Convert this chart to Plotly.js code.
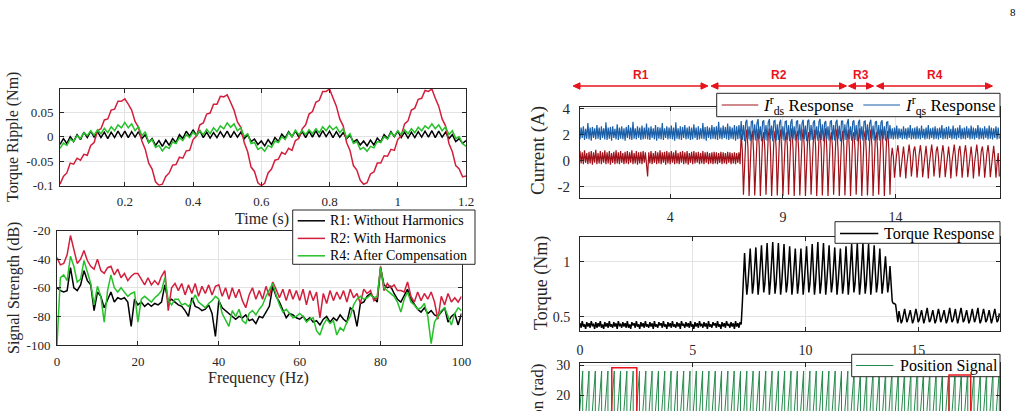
<!DOCTYPE html>
<html>
<head>
<meta charset="utf-8">
<script src="https://cdn.plot.ly/plotly-3.0.1.min.js"></script>
<style>
  html, body { margin: 0; padding: 0; background: #ffffff; }
  #chart { width: 1023px; height: 411px; }
</style>
</head>
<body>
<div id="chart"></div>
<script>
// ---------------- Torque ripple, time domain (0.01 s .. 1.20 s, 0.01 s step) ----------------
const rippleT0 = 0.01, rippleDt = 0.01;
const rippleR1 = [
  -0.016, -0.004, -0.014, 0.0, -0.01, 0.004, -0.006, 0.009, -0.002, 0.011, -0.001, 0.010, -0.002, 0.009, -0.004, 0.009, -0.002, 0.011, -0.001, 0.011, -0.002, 0.010, -0.001, 0.010, -0.004, 0.004, -0.012, -0.004, -0.018, -0.008,
  -0.020, -0.007, -0.018, -0.004, -0.012, 0.004, -0.004, 0.011, 0.001, 0.014, 0.002, 0.012, -0.002, 0.009, -0.003, 0.008, -0.002, 0.010, -0.001, 0.011, -0.002, 0.010, -0.001, 0.009, -0.004, 0.004, -0.010, -0.005, -0.016, -0.009,
  -0.019, -0.006, -0.016, -0.002, -0.010, 0.005, -0.003, 0.010, 0.000, 0.011, -0.001, 0.010, -0.002, 0.011, -0.001, 0.012, -0.001, 0.012, 0.000, 0.011, -0.002, 0.010, -0.001, 0.008, -0.004, 0.003, -0.011, -0.006, -0.017, -0.009,
  -0.019, -0.007, -0.017, -0.003, -0.011, 0.004, -0.004, 0.010, 0.000, 0.011, -0.002, 0.009, -0.003, 0.009, -0.002, 0.010, -0.001, 0.011, -0.001, 0.012, -0.002, 0.011, -0.001, 0.009, -0.004, 0.004, -0.010, -0.004, -0.014, -0.008
];
const rippleR2 = [
  -0.097, -0.081, -0.074, -0.054, -0.056, -0.044, -0.048, -0.036, -0.038, -0.018, -0.012, 0.012, 0.016, 0.034, 0.036, 0.054, 0.056, 0.072, 0.072, 0.077, 0.066, 0.054, 0.031, 0.019, -0.009, -0.026, -0.054, -0.066, -0.092, -0.099,
  -0.097, -0.081, -0.074, -0.058, -0.057, -0.042, -0.044, -0.029, -0.028, -0.006, 0.001, 0.024, 0.028, 0.046, 0.048, 0.066, 0.066, 0.082, 0.081, 0.085, 0.070, 0.054, 0.030, 0.019, -0.012, -0.031, -0.062, -0.071, -0.094, -0.100,
  -0.095, -0.074, -0.066, -0.048, -0.046, -0.032, -0.036, -0.024, -0.028, -0.008, -0.004, 0.016, 0.024, 0.046, 0.051, 0.070, 0.074, 0.092, 0.092, 0.097, 0.079, 0.062, 0.036, 0.022, -0.012, -0.028, -0.059, -0.068, -0.089, -0.097,
  -0.094, -0.076, -0.072, -0.054, -0.054, -0.039, -0.040, -0.026, -0.028, -0.006, 0.002, 0.026, 0.032, 0.054, 0.058, 0.076, 0.078, 0.094, 0.092, 0.097, 0.078, 0.062, 0.036, 0.022, -0.014, -0.031, -0.059, -0.066, -0.082, -0.080
];
const rippleR4 = [
  -0.024, -0.013, -0.018, -0.005, -0.010, 0.002, -0.004, 0.008, 0.002, 0.012, 0.003, 0.014, 0.006, 0.017, 0.008, 0.020, 0.012, 0.024, 0.018, 0.029, 0.018, 0.026, 0.012, 0.020, 0.002, 0.010, -0.012, -0.006, -0.022, -0.018,
  -0.029, -0.020, -0.024, -0.011, -0.014, -0.002, -0.008, 0.004, -0.002, 0.009, 0.002, 0.012, 0.004, 0.015, 0.006, 0.018, 0.010, 0.022, 0.016, 0.028, 0.019, 0.026, 0.012, 0.018, 0.000, 0.006, -0.014, -0.012, -0.026, -0.022,
  -0.030, -0.018, -0.022, -0.009, -0.012, 0.000, -0.006, 0.008, 0.000, 0.013, 0.004, 0.012, 0.004, 0.014, 0.006, 0.016, 0.008, 0.020, 0.012, 0.022, 0.014, 0.020, 0.008, 0.016, -0.002, 0.006, -0.014, -0.010, -0.026, -0.022,
  -0.030, -0.020, -0.023, -0.010, -0.012, 0.000, -0.005, 0.008, 0.001, 0.012, 0.004, 0.014, 0.006, 0.016, 0.008, 0.019, 0.012, 0.022, 0.016, 0.026, 0.016, 0.024, 0.012, 0.020, 0.004, 0.012, -0.004, 0.000, -0.014, -0.020
];
const rippleXTicks = [0.2, 0.4, 0.6, 0.8, 1.0, 1.2];
const rippleXLabels = ['0.2', '0.4', '0.6', '0.8', '1', '1.2'];
const rippleYTicks = [-0.1, -0.05, 0, 0.05];
const rippleYLabels = ['-0.1', '-0.05', '0', '0.05'];

// ---------------- Spectrum (0 .. 100 Hz, 121 bins) ----------------
const specBins = 121, specMaxHz = 100;
const specR1 = [
  -60, -62, -63, -62, -46, -60, -62, -58, -48, -55, -58, -76,
  -63, -66, -74, -68, -63, -70, -67, -68, -67, -70, -87, -68,
  -72, -70, -73, -71, -73, -71, -72, -70, -58, -70, -68, -70,
  -72, -73, -76, -80, -67, -73, -74, -76, -75, -72, -78, -94,
  -69, -74, -76, -78, -80, -82, -80, -81, -79, -83, -82, -85,
  -80, -81, -77, -73, -59, -66, -70, -76, -81, -78, -79, -81,
  -82, -80, -83, -81, -84, -83, -86, -82, -80, -84, -81, -83,
  -79, -82, -84, -74, -76, -87, -71, -70, -66, -64, -67, -70,
  -46, -58, -60, -59, -64, -68, -70, -66, -61, -68, -72, -75,
  -77, -74, -78, -76, -79, -80, -77, -74, -84, -80, -78, -86,
  -78
];
const specR2 = [
  -39, -44, -43, -37, -23.5, -33, -43, -40, -34, -41, -45, -47,
  -40, -48, -50, -46, -45, -51, -47, -53, -50, -55, -52, -50,
  -50, -54, -58, -53, -58, -55, -58, -52, -48, -76, -60, -57,
  -62, -57, -65, -58, -64, -57, -66, -59, -64, -58, -65, -59,
  -58, -66, -60, -68, -60, -67, -61, -69, -74, -65, -60, -68,
  -62, -68, -59, -66, -56, -61, -67, -61, -69, -61, -68, -62,
  -69, -61, -72, -62, -69, -63, -81, -64, -71, -62, -69, -63,
  -68, -62, -70, -61, -67, -64, -71, -61, -64, -62, -69, -67,
  -45, -62, -57, -60, -58, -62, -62, -63, -56, -66, -70, -63,
  -69, -64, -68, -63, -70, -82, -66, -72, -64, -70, -67, -70,
  -66
];
const specR4 = [
  -100, -53, -51, -55, -38, -45, -56, -54, -41, -50, -57, -72,
  -59, -66, -84, -62, -51, -60, -63, -60, -63, -66, -64, -63,
  -84, -68, -66, -68, -70, -67, -65, -62, -53, -69, -72, -68,
  -68, -72, -71, -73, -70, -65, -70, -72, -74, -71, -69, -66,
  -68, -78, -82, -87, -76, -80, -75, -83, -85, -78, -76, -79,
  -75, -72, -66, -62, -57, -65, -72, -77, -75, -78, -81, -80,
  -78, -80, -84, -82, -81, -90, -93, -86, -82, -85, -83, -93,
  -88, -90, -84, -80, -72, -68, -66, -68, -67, -65, -67, -66,
  -46, -60, -62, -64, -66, -70, -77, -68, -63, -70, -72, -75,
  -74, -71, -80, -99, -84, -80, -76, -74, -80, -86, -78, -74,
  -76
];
const specXTicks = [0, 20, 40, 60, 80, 100];
const specYTicks = [-100, -80, -60, -40, -20];
const specYLabels = ['-100', '-80', '-60', '-40', '-20'];
const specNames = ['R1: Without Harmonics', 'R2: With Harmonics', 'R4: After Compensation'];

// ---------------- Experimental signals (0 .. 18.6 s, 0.05 s step) ----------------
const sigDt = 0.05, sigSamples = 373;
const iqsR1 = [
  1.65, 2.55, 1.75, 2.65, 1.6, 2.45, 1.7, 2.9, 1.65, 2.55, 1.55, 2.6, 1.75, 2.5, 1.65, 2.75, 1.7, 2.55, 1.6, 2.65,
  1.75, 2.5, 1.65, 2.95, 1.6, 2.55, 1.7, 2.6, 1.55, 2.65, 1.75, 2.45, 1.65, 2.8, 1.6, 2.55, 1.7, 2.65, 1.65, 2.5,
  1.55, 2.6, 1.75, 2.75, 1.65, 2.55, 1.6, 3.0, 1.7, 2.5, 1.65, 2.65, 1.75, 2.55, 1.6, 2.7, 1.65, 2.55, 1.7, 2.85,
  1.65, 2.55, 1.6, 2.65, 1.75, 2.5, 1.65, 2.75, 1.55, 2.6, 1.7, 2.55, 1.65, 2.9, 1.6, 2.5, 1.75, 2.65, 1.65, 2.55,
  1.7, 2.7, 1.65, 2.55, 1.55, 2.95, 1.7, 2.5, 1.65, 2.65, 1.6, 2.6, 1.75, 2.75, 1.65, 2.55, 1.7, 2.65, 1.6, 2.55,
  1.65, 2.8, 1.75, 2.55, 1.6, 2.65, 1.65, 2.5, 1.7, 2.9, 1.65, 2.6, 1.55, 2.65, 1.75, 2.55, 1.65, 2.75, 1.7, 2.6,
  1.65, 2.65, 1.6, 3.0, 1.7, 2.55, 1.65, 2.7, 1.75, 2.6, 1.65, 2.85, 1.6, 2.65, 1.7, 2.55, 1.65, 2.75, 1.55, 2.65,
  1.65, 2.75, 1.7
];
const iqsR2 = [
  3.05, 1.6, 2.75, 1.5, 2.95, 3.15, 1.65, 2.65, 1.55, 3.0, 3.05, 1.6, 2.8, 1.55, 2.9, 3.2, 1.65, 2.65, 1.5, 3.0,
  3.1, 1.6, 2.75, 1.55, 2.95, 3.2, 1.65, 2.7, 1.5, 3.05, 3.1, 1.55, 2.8, 1.6, 2.9, 3.15, 1.65, 2.65, 1.55, 3.0,
  3.05, 1.6, 2.75, 1.5, 2.95, 3.2, 1.65, 2.65, 1.55, 3.0, 3.1, 1.6, 2.8, 1.55, 2.9, 3.15, 1.65, 2.7, 1.5, 3.05,
  3.15, 1.55, 2.75, 1.6, 2.95, 3.1, 1.65, 2.65, 1.55, 3.0, 3.2, 1.6, 2.8, 1.5, 2.9, 3.05, 1.65, 2.65, 1.55, 3.0,
  3.1, 1.6, 2.75, 1.55, 2.95, 3.15, 1.65, 2.7, 1.5, 3.05, 3.05, 1.55, 2.8, 1.6, 2.9, 3.2, 1.65, 2.65, 1.55, 3.0,
  3.1, 1.6, 2.75, 1.5, 2.95, 3.15, 1.65, 2.65, 1.55, 3.0, 3.05, 1.6, 2.8, 1.55, 2.9, 3.15, 1.65, 2.7, 1.55, 2.95,
  3.05, 1.6, 2.75, 1.55, 2.95, 3.1, 1.65, 2.65, 1.55, 2.95, 3.0, 1.65, 2.75, 1.7
];
const iqsR4 = [
  2.5, 1.65, 2.55, 1.7, 2.7, 1.65, 2.5, 1.75, 2.45, 1.65, 2.65, 1.7, 2.5, 1.65, 2.55, 1.75, 2.75, 1.65, 2.5, 1.7,
  2.55, 1.65, 2.65, 1.7, 2.5, 1.65, 2.7, 1.75, 2.45, 1.65, 2.55, 1.7, 2.75, 1.65, 2.5, 1.75, 2.55, 1.65, 2.65, 1.7,
  2.5, 1.65, 2.55, 1.75, 2.75, 1.65, 2.5, 1.7, 2.6, 1.65, 2.65, 1.75, 2.45, 1.65, 2.7, 1.7, 2.5, 1.65, 2.55, 1.75,
  2.75, 1.65, 2.5, 1.7, 2.55, 1.65, 2.65, 1.75, 2.5, 1.65, 2.7, 1.7, 2.55, 1.65, 2.5, 1.75, 2.75, 1.65, 2.55, 1.7,
  2.5, 1.65, 2.65, 1.75, 2.5, 1.65, 2.7, 1.7, 2.55, 1.65, 2.5, 1.75, 2.65, 1.65, 2.55, 1.7
];
const idsR1 = [
  0.75, -0.2, 0.65, -0.25, 0.8, -0.15, 0.6, -0.25, 0.7, -0.2, 0.75, -0.3, 0.65, -0.15, 0.85, -0.25, 0.6, -0.2, 0.75, -0.25,
  0.65, -0.15, 0.8, -0.25, 0.65, -0.2, 0.75, -0.3, 0.6, -0.15, 0.7, -0.25, 0.8, -0.2, 0.65, -0.25, 0.75, -0.15, 0.6, -0.25,
  0.7, -0.2, 0.75, -0.25, 0.65, -0.15, 0.8, -0.25, 0.6, -0.2, 0.75, -0.3, 0.65, -0.2, 0.7, -0.25, 0.75, -0.15, 0.65, -0.25,
  -1.2, 0.65, -0.2, 0.75, -0.25, 0.6, -0.15, 0.75, -0.25, 0.65, -0.2, 0.8, -0.25, 0.65, -0.15, 0.7, -0.3, 0.75, -0.2, 0.65,
  -0.25, 0.75, -0.15, 0.65, -0.25, 0.8, -0.2, 0.6, -0.25, 0.7, -0.15, 0.75, -0.25, 0.65, -0.2, 0.75, -0.3, 0.6, -0.15, 0.7,
  -0.25, 0.75, -0.2, 0.65, -0.15, 0.7, -0.25, 0.6, -0.2, 0.75, -0.25, 0.65, -0.15, 0.7, -0.25, 0.6, -0.2, 0.65, -0.25, 0.7,
  -0.2, 0.65, -0.25, 0.6, -0.15, 0.7, -0.25, 0.65, -0.2, 0.6, -0.25, 0.7, -0.15, 0.65, -0.25, 0.6, -0.2, 0.65, -0.25, 0.6,
  -0.15, 0.65, -0.25
];
const idsR2 = [
  2.1, 0.8, -2.6, -0.3, 1.6,   2.4, 1.0, -2.7, -0.5, 1.8,   2.3, 0.7, -2.65, -0.2, 1.5,   2.45, 1.1, -2.7, -0.4, 1.7,
  2.2, 0.9, -2.6, -0.3, 1.9,   2.5, 0.8, -2.7, -0.5, 1.6,   2.3, 1.0, -2.65, -0.2, 1.8,   2.4, 0.7, -2.7, -0.4, 1.5,
  2.2, 1.1, -2.6, -0.3, 1.7,   2.5, 0.9, -2.7, -0.5, 1.9,   2.3, 0.8, -2.65, -0.2, 1.6,   2.45, 1.0, -2.7, -0.4, 1.8,
  2.2, 0.7, -2.6, -0.3, 1.5,   2.4, 1.1, -2.7, -0.5, 1.7,   2.3, 0.9, -2.65, -0.2, 1.9,   2.5, 0.8, -2.7, -0.4, 1.6,
  2.2, 1.0, -2.6, -0.3, 1.8,   2.45, 0.7, -2.7, -0.5, 1.5,  2.3, 1.1, -2.65, -0.2, 1.7,   2.4, 0.9, -2.7, -0.4, 1.9,
  2.2, 0.8, -2.6, -0.3, 1.6,   2.5, 1.0, -2.7, -0.5, 1.8,   2.3, 0.7, -2.65, -0.2, 1.5,   2.4, 1.1, -2.7, -0.4, 1.7,
  2.2, 0.9, -2.6, -0.3, 1.9,   2.45, 0.8, -2.7, -0.4, 1.6,
  2.3, 0.9, -2.6, 0.2
];
const idsR4 = [
  1.0, 0.3, -1.3, -0.2, 0.6,    1.2, 0.4, -1.25, -0.3, 0.7,   1.1, 0.2, -1.35, -0.2, 0.6,   1.25, 0.4, -1.2, -0.3, 0.8,
  1.1, 0.3, -1.3, -0.1, 0.6,    1.2, 0.4, -1.25, -0.3, 0.7,   1.15, 0.2, -1.35, -0.2, 0.6,  1.25, 0.4, -1.2, -0.3, 0.75,
  1.1, 0.3, -1.3, -0.2, 0.6,    1.2, 0.4, -1.25, -0.3, 0.7,   1.1, 0.2, -1.35, -0.1, 0.6,   1.25, 0.4, -1.2, -0.3, 0.8,
  1.15, 0.3, -1.3, -0.2, 0.6,   1.2, 0.4, -1.25, -0.3, 0.7,   1.1, 0.2, -1.35, -0.2, 0.65,  1.25, 0.4, -1.2, -0.3, 0.75,
  1.1, 0.3, -1.3, -0.2, 0.6,    1.2, 0.4, -1.25, -0.3, 0.7,   1.15, 0.2, -1.3, -0.2, 0.6,
  -1.2
];
const torqueR1 = [
  0.44, 0.40, 0.46, 0.41, 0.43, 0.39, 0.45, 0.41, 0.44, 0.40, 0.46, 0.42, 0.43, 0.39, 0.45, 0.40, 0.44, 0.41, 0.46, 0.40,
  0.43, 0.39, 0.45, 0.41, 0.44, 0.40, 0.46, 0.41, 0.43, 0.40, 0.45, 0.41, 0.44, 0.39, 0.46, 0.42, 0.43, 0.40, 0.45, 0.41,
  0.44, 0.40, 0.46, 0.40, 0.43, 0.39, 0.45, 0.42, 0.44, 0.40, 0.46, 0.41, 0.43, 0.39, 0.45, 0.41, 0.44, 0.40, 0.46, 0.41,
  0.43, 0.40, 0.45, 0.41, 0.44, 0.39, 0.46, 0.41, 0.43, 0.40, 0.45, 0.42, 0.44, 0.40, 0.46, 0.41, 0.43, 0.39, 0.45, 0.41,
  0.44, 0.40, 0.46, 0.41, 0.43, 0.40, 0.45, 0.41, 0.44, 0.39, 0.46, 0.42, 0.43, 0.40, 0.45, 0.41, 0.44, 0.40, 0.46, 0.41,
  0.43, 0.39, 0.45, 0.41, 0.44, 0.40, 0.46, 0.42, 0.43, 0.40, 0.45, 0.41, 0.44, 0.39, 0.46, 0.41, 0.43, 0.40, 0.45, 0.42,
  0.44, 0.40, 0.46, 0.41, 0.43, 0.39, 0.45, 0.41, 0.44, 0.40, 0.46, 0.42, 0.43, 0.40, 0.45, 0.41, 0.44, 0.39, 0.46, 0.41,
  0.44, 0.40, 0.45
];
const torqueR2 = [
  0.43, 0.62, 0.92, 1.08, 0.86, 0.70, 0.80, 1.00,
  1.12, 0.92, 0.71, 0.80, 1.00,   1.13, 0.91, 0.70, 0.81, 1.02,   1.15, 0.93, 0.72, 0.80, 1.03,   1.17, 0.92, 0.70, 0.82, 1.04,
  1.18, 0.93, 0.71, 0.80, 1.03,   1.17, 0.92, 0.70, 0.81, 1.02,   1.16, 0.91, 0.72, 0.80, 1.01,   1.14, 0.92, 0.70, 0.81, 1.00,
  1.12, 0.90, 0.71, 0.80, 1.00,   1.12, 0.91, 0.70, 0.82, 1.02,   1.14, 0.92, 0.72, 0.80, 1.03,   1.16, 0.93, 0.70, 0.81, 1.04,
  1.18, 0.92, 0.71, 0.80, 1.03,   1.17, 0.93, 0.70, 0.82, 1.02,   1.15, 0.91, 0.72, 0.80, 1.01,   1.13, 0.92, 0.70, 0.81, 1.00,
  1.12, 0.90, 0.71, 0.80, 1.01,   1.14, 0.92, 0.70, 0.82, 1.03,   1.16, 0.93, 0.72, 0.80, 1.04,   1.17, 0.92, 0.70, 0.81, 1.03,
  1.17, 0.93, 0.71, 0.80, 1.03,   1.16, 0.92, 0.70, 0.82, 1.02,   1.15, 0.91, 0.72, 0.80, 1.00,   1.12, 0.90, 0.71, 0.80, 0.98,
  1.05, 0.88, 0.72, 0.80, 0.96,
  0.80
];
const torqueR4 = [
  0.64, 0.62, 0.62, 0.61, 0.52, 0.45,
  0.55, 0.50, 0.44, 0.47, 0.52,   0.57, 0.51, 0.45, 0.48, 0.53,   0.56, 0.50, 0.44, 0.47, 0.52,   0.57, 0.52, 0.45, 0.47, 0.53,
  0.56, 0.50, 0.44, 0.48, 0.52,   0.58, 0.51, 0.45, 0.47, 0.53,   0.56, 0.50, 0.44, 0.47, 0.52,   0.57, 0.52, 0.45, 0.48, 0.53,
  0.56, 0.50, 0.44, 0.47, 0.52,   0.58, 0.51, 0.45, 0.47, 0.53,   0.57, 0.50, 0.44, 0.48, 0.52,   0.58, 0.52, 0.45, 0.47, 0.53,
  0.56, 0.50, 0.44, 0.47, 0.52,   0.57, 0.51, 0.45, 0.48, 0.53,   0.58, 0.50, 0.44, 0.47, 0.52,   0.57, 0.52, 0.45, 0.47, 0.53,
  0.56, 0.50, 0.44, 0.48, 0.52,   0.57, 0.51, 0.45, 0.47, 0.53
];
// Position sawtooth: wrap instants (s) and the ramp limits (rad)
const posWrapTimes = [
  -0.16, 0.12, 0.40, 0.68, 0.96, 1.24, 1.52, 1.80, 2.08, 2.36, 2.64, 2.92, 3.20, 3.48, 3.76, 4.04, 4.32, 4.60, 4.88, 5.16,
  5.44, 5.72, 6.00, 6.28, 6.56, 6.84, 7.12, 7.40, 7.68, 7.96, 8.24, 8.52, 8.80, 9.08, 9.36, 9.64, 9.92, 10.20, 10.48, 10.76,
  11.04, 11.32, 11.60, 11.88, 12.16, 12.44, 12.72, 13.00, 13.28, 13.56, 13.84, 14.12, 14.40, 14.68, 14.96, 15.24, 15.52, 15.80, 16.08, 16.36,
  16.64, 16.92, 17.20, 17.48, 17.76, 18.04, 18.32, 18.60, 18.88
];
const posLow = 0, posHigh = 28;
// Highlight windows on the position plot (s, rad)
const posWindows = [
  { t0: 1.41, t1: 2.52, top: 29.1 },
  { t0: 16.37, t1: 17.33, top: 26.7 }
];
// Operating regions along the time axis
const regionNames = ['R1', 'R2', 'R3', 'R4'];

// ---------------- derived sample grids ----------------
const rippleT = rippleR1.map((_, i) => +(rippleT0 + i * rippleDt).toFixed(3));
const specF = Array.from({ length: specBins }, (_, k) => k * specMaxHz / (specBins - 1));
const sigT = Array.from({ length: sigSamples }, (_, i) => +(i * sigDt).toFixed(3));
const iqs = iqsR1.concat(iqsR2, iqsR4);
const ids = idsR1.concat(idsR2, idsR4);
const torque = torqueR1.concat(torqueR2, torqueR4);
const posX = [], posY = [];
for (let k = 0; k < posWrapTimes.length - 1; k++) {
  posX.push(posWrapTimes[k], posWrapTimes[k + 1]);
  posY.push(posLow, posHigh);
}

// ---------------- page geometry helpers (pixels -> paper) ----------------
const W = 1023, H = 411;
const px = p => p / W;
const py = p => 1 - p / H;

const SERIF = 'Liberation Serif, Times New Roman, serif';
const AX = '#262626';
const GRID = '#e3e3e3';
const C_BLACK = '#000000', C_RED = '#d21f3c', C_GREEN = '#26c02a';
const C_IDS = '#a0121a', C_IQS = '#1a5fa8', C_POS = '#23894a', C_MARK = '#e8141c';

function axisStyle(extra) {
  return Object.assign({
    showline: true, mirror: 'ticks', linecolor: AX, linewidth: 1,
    ticks: 'inside', ticklen: 4, tickwidth: 1, tickcolor: AX,
    showgrid: true, gridcolor: GRID, gridwidth: 1, zeroline: false,
    tickfont: { family: SERIF, size: 13, color: AX },
    fixedrange: true, tickmode: 'array'
  }, extra);
}

const traces = [
  { x: rippleT, y: rippleR1, xaxis: 'x', yaxis: 'y', mode: 'lines', line: { color: C_BLACK, width: 1.5 } },
  { x: rippleT, y: rippleR2, xaxis: 'x', yaxis: 'y', mode: 'lines', line: { color: C_RED, width: 1.5 } },
  { x: rippleT, y: rippleR4, xaxis: 'x', yaxis: 'y', mode: 'lines', line: { color: C_GREEN, width: 1.5 } },

  { x: specF, y: specR1, xaxis: 'x2', yaxis: 'y2', mode: 'lines', name: specNames[0], line: { color: C_BLACK, width: 1.5 } },
  { x: specF, y: specR2, xaxis: 'x2', yaxis: 'y2', mode: 'lines', name: specNames[1], line: { color: C_RED, width: 1.5 } },
  { x: specF, y: specR4, xaxis: 'x2', yaxis: 'y2', mode: 'lines', name: specNames[2], line: { color: C_GREEN, width: 1.5 } },

  { x: sigT, y: ids, xaxis: 'x3', yaxis: 'y3', mode: 'lines', name: 'Ids', line: { color: C_IDS, width: 1.2 } },
  { x: sigT, y: iqs, xaxis: 'x3', yaxis: 'y3', mode: 'lines', name: 'Iqs', line: { color: C_IQS, width: 1.2 } },

  { x: sigT, y: torque, xaxis: 'x4', yaxis: 'y4', mode: 'lines', name: 'Torque Response', line: { color: C_BLACK, width: 1.5 } },

  { x: posX, y: posY, xaxis: 'x5', yaxis: 'y5', mode: 'lines', name: 'Position Signal', line: { color: C_POS, width: 1 } }
];

const annotations = [];
const shapes = [];
function label(text, xp, yp, size, opts) {
  annotations.push(Object.assign({
    text: text, x: px(xp), y: py(yp), xref: 'paper', yref: 'paper', showarrow: false,
    xanchor: 'center', yanchor: 'middle', font: { family: SERIF, size: size, color: AX }
  }, opts || {}));
}

// Axis titles
label('Torque Ripple (Nm)', 13, 137, 16, { textangle: -90 });
label('Time (s)', 262, 219, 16);
label('Signal Strength (dB)', 14, 288, 16, { textangle: -90 });
label('Frequency (Hz)', 258, 378, 16);
label('Current (A)', 538, 151, 19, { textangle: -90 });
label('Torque (Nm)', 541, 283, 18, { textangle: -90 });
label('Position (rad)', 537, 362, 17, { textangle: -90, yanchor: 'top' });
label('8', 1013, 12, 11, { font: { family: SERIF, size: 11, color: '#000000' } });

// Legend boxes: frame, line samples and entry texts
function legendBox(x0, y0, x1, y1) {
  shapes.push({ type: 'rect', xref: 'paper', yref: 'paper', x0: px(x0), x1: px(x1), y0: py(y1), y1: py(y0),
    line: { color: AX, width: 1 }, fillcolor: '#ffffff', layer: 'above' });
}
function legendEntry(lx0, lx1, ly, color, width, text, tx, size) {
  shapes.push({ type: 'line', xref: 'paper', yref: 'paper', x0: px(lx0), x1: px(lx1), y0: py(ly), y1: py(ly),
    line: { color: color, width: width }, layer: 'above' });
  label(text, tx, ly, size, { xanchor: 'left', font: { family: SERIF, size: size, color: '#000000' } });
}
legendBox(292.7, 210, 475, 264.3);
legendEntry(297.7, 325, 220.8, C_BLACK, 1.5, specNames[0], 327.5, 14);
legendEntry(297.7, 325, 238.4, C_RED, 1.5, specNames[1], 327.5, 14);
legendEntry(297.7, 325, 255.8, C_GREEN, 1.5, specNames[2], 327.5, 14);

legendBox(716.7, 93.3, 1000, 116.7);
legendEntry(721.7, 758.3, 105, C_IDS, 1.2, '<i>I</i><sup>r</sup><sub>ds</sub> Response', 761, 17);
legendEntry(863.3, 900, 105, C_IQS, 1.2, '<i>I</i><sup>r</sup><sub>qs</sub> Response', 903, 17);

legendBox(835, 221.7, 1000, 243.3);
legendEntry(840, 878.3, 233.5, C_BLACK, 1.5, 'Torque Response', 882, 16);

legendBox(851.7, 354.3, 1000, 376.7);
legendEntry(856, 893.3, 365.5, C_POS, 1.2, 'Position Signal', 897.5, 16);

// Region labels and double-headed spans above the current plot
const regionSpans = [[573, 708], [711, 846.5], [848.5, 873.5], [876.5, 992.5]];
const arrowY = 86, headLen = 7, headHalf = 3.2;
regionSpans.forEach((s, i) => {
  label('<b>' + regionNames[i] + '</b>', (s[0] + s[1]) / 2, 75, 12,
    { font: { family: 'Liberation Sans, Arial, sans-serif', size: 12, color: C_MARK } });
  shapes.push({ type: 'line', xref: 'paper', yref: 'paper', x0: px(s[0] + 2), x1: px(s[1] - 2), y0: py(arrowY), y1: py(arrowY),
    line: { color: C_MARK, width: 1.5 } });
  const head = (tip, dir) => 'M' + px(tip) + ',' + py(arrowY) +
    ' L' + px(tip - dir * headLen) + ',' + py(arrowY - headHalf) +
    ' L' + px(tip - dir * headLen) + ',' + py(arrowY + headHalf) + ' Z';
  shapes.push({ type: 'path', xref: 'paper', yref: 'paper', path: head(s[1], 1), fillcolor: C_MARK, line: { color: C_MARK, width: 1 } });
  shapes.push({ type: 'path', xref: 'paper', yref: 'paper', path: head(s[0], -1), fillcolor: C_MARK, line: { color: C_MARK, width: 1 } });
});

// Highlight windows on the position plot
posWindows.forEach(w => shapes.push({
  type: 'rect', xref: 'x5', yref: 'y5', x0: w.t0, x1: w.t1, y0: 0, y1: w.top,
  line: { color: C_MARK, width: 1.5 }, fillcolor: 'rgba(0,0,0,0)', layer: 'above'
}));

const layout = {
  width: W, height: H,
  margin: { l: 0, r: 0, t: 0, b: 0, pad: 0 },
  paper_bgcolor: '#ffffff', plot_bgcolor: '#ffffff',
  showlegend: false,
  xaxis: axisStyle({ domain: [px(60), px(466)], range: [0.01, 1.2], anchor: 'y',
    tickvals: rippleXTicks, ticktext: rippleXLabels, ticklabelstandoff: 4 }),
  yaxis: axisStyle({ domain: [py(185.7), py(89)], range: [-0.1, 0.097], anchor: 'x',
    tickvals: rippleYTicks, ticktext: rippleYLabels, ticklabelstandoff: 3 }),
  xaxis2: axisStyle({ domain: [px(57), px(461.5)], range: [0, 100], anchor: 'y2',
    tickvals: specXTicks, ticktext: specXTicks.map(String), ticklabelstandoff: 4 }),
  yaxis2: axisStyle({ domain: [py(345), py(230.5)], range: [-100, -20], anchor: 'x2',
    tickvals: specYTicks, ticktext: specYLabels, ticklabelstandoff: 3 }),
  xaxis3: axisStyle({ domain: [px(580), px(1000)], range: [0, 18.63], anchor: 'y3',
    tickvals: [4, 9, 14], ticktext: ['4', '9', '14'], ticklabelstandoff: 6,
    tickfont: { family: SERIF, size: 14, color: AX } }),
  yaxis3: axisStyle({ domain: [py(198.3), py(106.7)], range: [-2.87, 4.15], anchor: 'x3',
    tickvals: [-2, 0, 2, 4], ticktext: ['-2', '0', '2', '4'], ticklabelstandoff: 6,
    tickfont: { family: SERIF, size: 15, color: AX } }),
  xaxis4: axisStyle({ domain: [px(580), px(1000)], range: [0, 18.63], anchor: 'y4',
    tickvals: [0, 5, 10, 15], ticktext: ['0', '5', '10', '15'], ticklabelstandoff: 6,
    tickfont: { family: SERIF, size: 14, color: AX } }),
  yaxis4: axisStyle({ domain: [py(331), py(237.3)], range: [0.37, 1.222], anchor: 'x4',
    tickvals: [0.5, 1], ticktext: ['0.5', '1'], ticklabelstandoff: 6,
    tickfont: { family: SERIF, size: 14, color: AX } }),
  xaxis5: axisStyle({ domain: [px(580), px(1000)], range: [0, 18.63], anchor: 'y5', side: 'top', mirror: false,
    tickvals: [0, 5, 10, 15], showticklabels: false }),
  yaxis5: axisStyle({ domain: [0, py(363.3)], range: [14.67, 30.57], anchor: 'x5',
    tickvals: [0, 10, 20, 30], ticktext: ['0', '10', '20', '30'], ticklabelstandoff: 6,
    tickfont: { family: SERIF, size: 14, color: AX } }),
  annotations: annotations,
  shapes: shapes
};

Plotly.newPlot('chart', traces, layout, { displayModeBar: false, staticPlot: true });
</script>
</body>
</html>
